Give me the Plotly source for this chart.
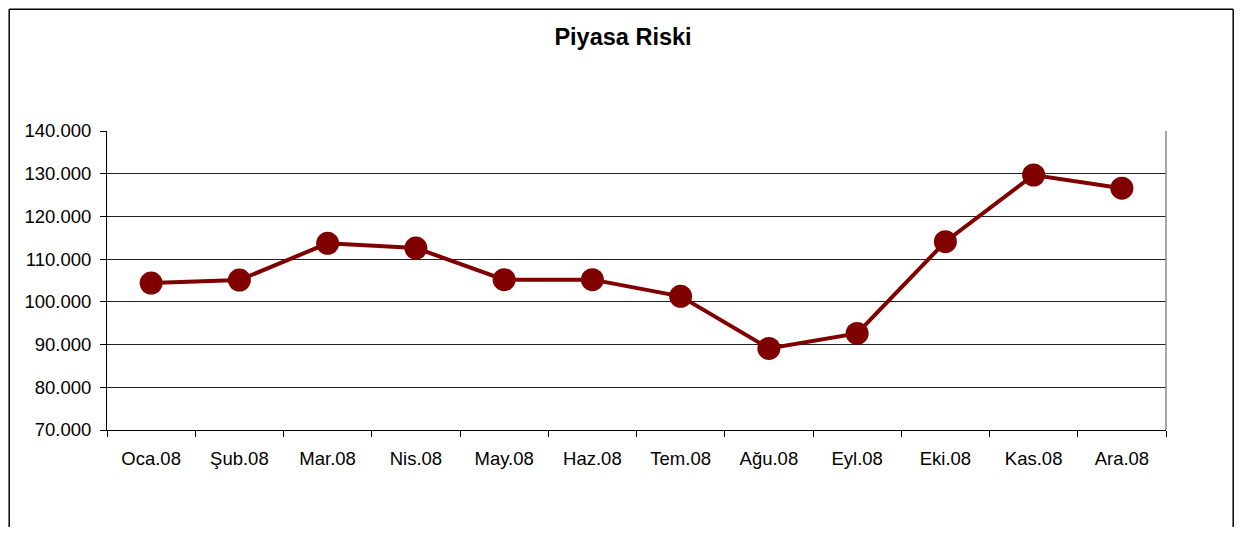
import plotly.graph_objects as go

months = ["Oca.08", "Şub.08", "Mar.08", "Nis.08", "May.08", "Haz.08",
          "Tem.08", "Ağu.08", "Eyl.08", "Eki.08", "Kas.08", "Ara.08"]
risk = [104400, 105100, 113700, 112600, 105200, 105200,
        101300, 89100, 92600, 114100, 129700, 126600]
y_ticks = [70000, 80000, 90000, 100000, 110000, 120000, 130000, 140000]

OFF = 8  # page body margin
W, H = 1242 - 2 * OFF, 535 - 2 * OFF
L, R, T, B = 107 - OFF, 1166 - OFF, 131 - OFF, 430 - OFF  # plot area box (figure px)
pw, ph = R - L, B - T

def fx(x):  # figure-pixel x -> paper
    return (x - L) / pw

def fy(y):  # figure-pixel y -> paper
    return (B - y) / ph

fig = go.Figure()
fig.add_trace(go.Scatter(
    x=months, y=risk, mode="lines+markers",
    line=dict(color="#800000", width=4),
    marker=dict(color="#800000", size=23),
    showlegend=False, hoverinfo="skip",
))

font_family = "Liberation Sans, Arial, sans-serif"

bx0, bx1, by0, by1 = 1.2, W - 0.8, 1.2, H + 5
border = dict(color="black", width=1.5)

fig.update_layout(
    width=W, height=H,
    margin=dict(l=L, r=W - R, t=T, b=H - B, pad=0),
    paper_bgcolor="white", plot_bgcolor="white",
    separators=",.",
    font=dict(family=font_family, size=18.5, color="black"),
    title=dict(text="<b>Piyasa Riski</b>", xref="container", yref="container",
               x=(623 - OFF) / W, y=1 - (37 - OFF) / H, xanchor="center", yanchor="middle",
               font=dict(family=font_family, size=23.5, color="black")),
    xaxis=dict(
        type="category", tickson="boundaries", ticks="outside", ticklen=6,
        tickcolor="black", tickwidth=1, showline=True, linecolor="black",
        linewidth=1, showgrid=False, ticklabelstandoff=12,
        range=[-0.5, len(months) - 0.5], fixedrange=True,
    ),
    yaxis=dict(
        range=[70000, 140000], tickvals=y_ticks, tickformat=",.0f",
        ticks="outside", ticklen=6, tickcolor="black", tickwidth=1,
        showline=True, linecolor="black", linewidth=1,
        showgrid=True, gridcolor="#222222", gridwidth=1,
        zeroline=False, ticklabelstandoff=5, fixedrange=True,
    ),
    shapes=[
        dict(type="line", xref="paper", yref="paper", x0=1, x1=1, y0=0, y1=1,
             line=dict(color="#888888", width=1.5)),
        dict(type="line", xref="paper", yref="paper", x0=fx(bx0), x1=fx(bx1),
             y0=fy(by0), y1=fy(by0), line=border, layer="above"),
        dict(type="line", xref="paper", yref="paper", x0=fx(bx0), x1=fx(bx0),
             y0=fy(by0), y1=fy(by1), line=border, layer="above"),
        dict(type="line", xref="paper", yref="paper", x0=fx(bx1), x1=fx(bx1),
             y0=fy(by0), y1=fy(by1), line=border, layer="above"),
    ],
)

fig.write_html("out.html", config={"displayModeBar": False})
